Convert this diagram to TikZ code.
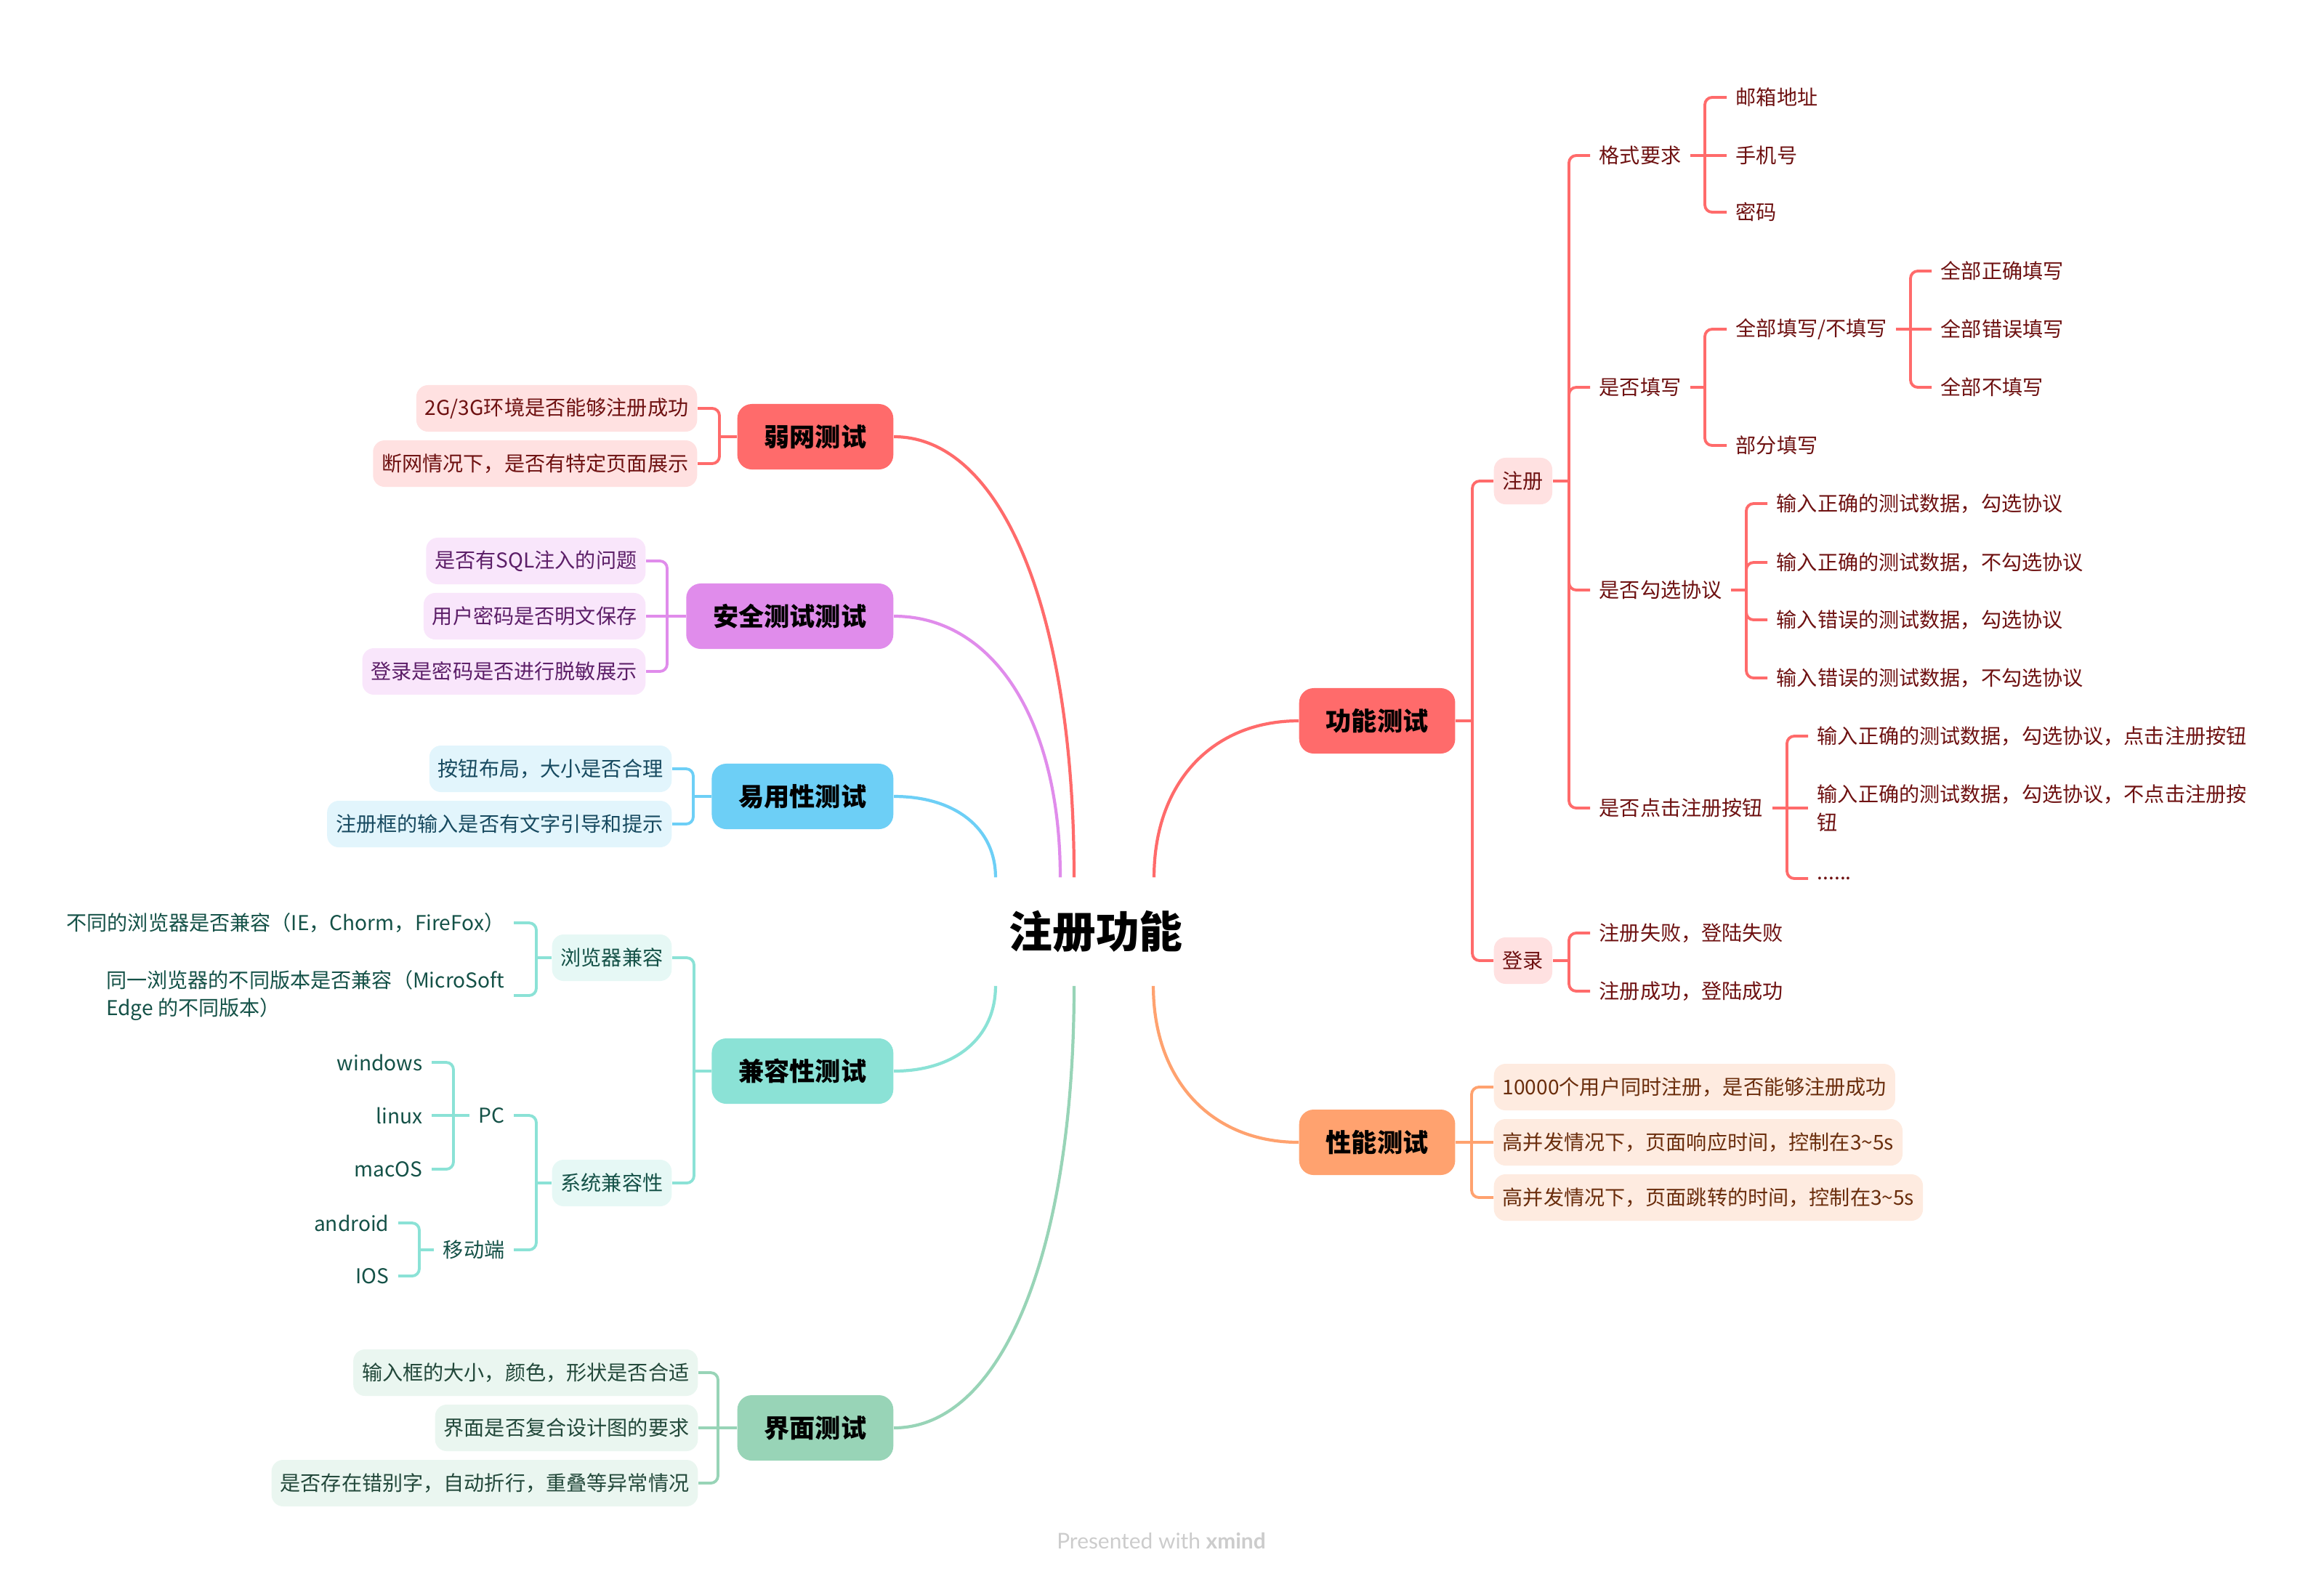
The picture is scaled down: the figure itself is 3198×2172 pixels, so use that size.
\documentclass[tikz,border=0pt]{standalone}
\usepackage{fontspec}
\setmainfont{Noto Sans CJK SC}
\newfontfamily\markfont{Lato}
\usepackage{xcolor}
\usepackage{tikz}

\definecolor{redM}{HTML}{FF6B6B}
\definecolor{redL}{HTML}{FFE1E1}
\definecolor{redT}{HTML}{6E1111}
\definecolor{purM}{HTML}{E08CEB}
\definecolor{purL}{HTML}{F9E6FB}
\definecolor{purT}{HTML}{5C1E68}
\definecolor{bluM}{HTML}{6DCFF6}
\definecolor{bluL}{HTML}{E2F5FC}
\definecolor{bluT}{HTML}{174A60}
\definecolor{teaM}{HTML}{8BE2D6}
\definecolor{teaL}{HTML}{E6F8F5}
\definecolor{teaT}{HTML}{145147}
\definecolor{grnM}{HTML}{98D4B7}
\definecolor{grnL}{HTML}{EAF6F0}
\definecolor{grnT}{HTML}{22483A}
\definecolor{oraM}{HTML}{FFA26F}
\definecolor{oraL}{HTML}{FEEBE0}
\definecolor{oraT}{HTML}{6A2D0C}
\definecolor{markgray}{HTML}{CCCCCC}

\begin{document}
\begin{tikzpicture}[x=0.01cm, y=-0.01cm,
      root/.style={font=\fontsize{17}{20}\selectfont\bfseries,
                   minimum width=3.6cm, minimum height=1.48cm},
      topic/.style={rounded corners=0.2cm, minimum height=0.9cm,
                    inner xsep=0.37cm, font=\fontsize{10}{12}\selectfont\bfseries},
      sub/.style={rounded corners=0.16cm, minimum height=0.64cm, inner xsep=0.12cm,
                  inner ysep=0pt, font=\fontsize{8}{11}\selectfont},
      leaf/.style={inner xsep=0.12cm, align=left, font=\fontsize{8}{11}\selectfont},
      curve/.style={line width=1.2pt},
      link/.style={line width=1.1pt, rounded corners=0.1cm}
    ]
  \useasboundingbox (0,0) rectangle (3198,2172);

  % centre
  \node[root] (root) at (1508,1282) {注册功能};

  % main topics
  \node[topic, fill=redM, anchor=east] (weak) at (1230,601) {弱网测试};
  \node[topic, fill=purM, anchor=east] (sec) at (1230,848) {安全测试测试};
  \node[topic, fill=bluM, anchor=east] (use) at (1230,1096) {易用性测试};
  \node[topic, fill=teaM, anchor=east] (comp) at (1230,1474) {兼容性测试};
  \node[topic, fill=grnM, anchor=east] (ui) at (1230,1965) {界面测试};
  \node[topic, fill=redM, anchor=west] (func) at (1787,992) {功能测试};
  \node[topic, fill=oraM, anchor=west] (perf) at (1787,1572) {性能测试};

  \draw[curve, redM] ([xshift=-0.3cm]root.north) .. controls +(0,-364) and +(149,0) .. (weak.east);
  \draw[curve, purM] ([xshift=-0.49cm]root.north) .. controls +(0,-216) and +(137,0) .. (sec.east);
  \draw[curve, bluM] ([xshift=-1.38cm]root.north) .. controls +(0,-67) and +(85,0) .. (use.east);
  \draw[curve, teaM] ([xshift=-1.38cm]root.south) .. controls +(0,71) and +(85,0) .. (comp.east);
  \draw[curve, grnM] ([xshift=-0.3cm]root.south) .. controls +(0,365) and +(149,0) .. (ui.east);
  \draw[curve, redM] ([xshift=0.8cm]root.north) .. controls +(0,-130) and +(-119,0) .. (func.west);
  \draw[curve, oraM] ([xshift=0.79cm]root.south) .. controls +(0,130) and +(-120,0) .. (perf.west);

  % 弱网测试
  \node[sub, fill=redL, text=redT, anchor=east] (w1) at (960,562) {2G/3G环境是否能够注册成功};
  \node[sub, fill=redL, text=redT, anchor=east] (w2) at (960,638) {断网情况下，是否有特定页面展示};
  \coordinate (jw) at (990,601);
  \draw[link, redM] (weak.west) -- (jw);
  \foreach \n in {w1,w2} \draw[link, redM] (jw) |- (\n.east);

  % 安全测试测试
  \node[sub, fill=purL, text=purT, anchor=east] (s1) at (889,772) {是否有SQL注入的问题};
  \node[sub, fill=purL, text=purT, anchor=east] (s2) at (889,848) {用户密码是否明文保存};
  \node[sub, fill=purL, text=purT, anchor=east] (s3) at (889,924) {登录是密码是否进行脱敏展示};
  \coordinate (js) at (918,848);
  \draw[link, purM] (sec.west) -- (s2.east);
  \foreach \n in {s1,s3} \draw[link, purM] (js) |- (\n.east);

  % 易用性测试
  \node[sub, fill=bluL, text=bluT, anchor=east] (u1) at (925,1058) {按钮布局，大小是否合理};
  \node[sub, fill=bluL, text=bluT, anchor=east] (u2) at (925,1134) {注册框的输入是否有文字引导和提示};
  \coordinate (ju) at (954,1096);
  \draw[link, bluM] (use.west) -- (ju);
  \foreach \n in {u1,u2} \draw[link, bluM] (ju) |- (\n.east);

  % 兼容性测试
  \node[sub, fill=teaL, text=teaT, anchor=east] (bro) at (925,1318) {浏览器兼容};
  \node[sub, fill=teaL, text=teaT, anchor=east] (sys) at (925,1628) {系统兼容性};
  \coordinate (jc) at (955,1474);
  \draw[link, teaM] (comp.west) -- (jc);
  \foreach \n in {bro,sys} \draw[link, teaM] (jc) |- (\n.east);

  \node[leaf, text=teaT, anchor=east] (b1) at (707,1270) {不同的浏览器是否兼容（IE，Chorm，FireFox）};
  \node[leaf, text=teaT, anchor=east] (b2) at (707,1370) {同一浏览器的不同版本是否兼容（MicroSoft\\Edge 的不同版本）};
  \coordinate (jb) at (738,1318);
  \draw[link, teaM] (bro.west) -- (jb);
  \foreach \n in {b1,b2} \draw[link, teaM] (jb) |- (\n.east);

  \node[leaf, text=teaT, anchor=east] (pc) at (707,1535) {PC};
  \node[leaf, text=teaT, anchor=east] (mob) at (707,1720) {移动端};
  \coordinate (jsy) at (738,1628);
  \draw[link, teaM] (sys.west) -- (jsy);
  \foreach \n in {pc,mob} \draw[link, teaM] (jsy) |- (\n.east);

  \node[leaf, text=teaT, anchor=east] (win) at (594,1462) {windows};
  \node[leaf, text=teaT, anchor=east] (lin) at (594,1535) {linux};
  \node[leaf, text=teaT, anchor=east] (mac) at (594,1609) {macOS};
  \coordinate (jpc) at (624,1535);
  \draw[link, teaM] (pc.west) -- (lin.east);
  \foreach \n in {win,mac} \draw[link, teaM] (jpc) |- (\n.east);

  \node[leaf, text=teaT, anchor=east] (and) at (548,1683) {android};
  \node[leaf, text=teaT, anchor=east] (ios) at (548,1756) {IOS};
  \coordinate (jmo) at (577,1720);
  \draw[link, teaM] (mob.west) -- (jmo);
  \foreach \n in {and,ios} \draw[link, teaM] (jmo) |- (\n.east);

  % 界面测试
  \node[sub, fill=grnL, text=grnT, anchor=east] (i1) at (961,1889) {输入框的大小，颜色，形状是否合适};
  \node[sub, fill=grnL, text=grnT, anchor=east] (i2) at (961,1965) {界面是否复合设计图的要求};
  \node[sub, fill=grnL, text=grnT, anchor=east] (i3) at (961,2041) {是否存在错别字，自动折行，重叠等异常情况};
  \coordinate (ji) at (988,1965);
  \draw[link, grnM] (ui.west) -- (i2.east);
  \foreach \n in {i1,i3} \draw[link, grnM] (ji) |- (\n.east);

  % 功能测试
  \node[sub, fill=redL, text=redT, anchor=west] (reg) at (2055,662) {注册};
  \node[sub, fill=redL, text=redT, anchor=west] (login) at (2055,1322) {登录};
  \coordinate (jf) at (2026,992);
  \draw[link, redM] (func.east) -- (jf);
  \foreach \n in {reg,login} \draw[link, redM] (jf) |- (\n.west);

  \node[leaf, text=redT, anchor=west] (fmt) at (2188,214) {格式要求};
  \node[leaf, text=redT, anchor=west] (wr) at (2188,533) {是否填写};
  \node[leaf, text=redT, anchor=west] (agree) at (2188,812) {是否勾选协议};
  \node[leaf, text=redT, anchor=west] (click) at (2188,1112) {是否点击注册按钮};
  \coordinate (jr) at (2159,662);
  \draw[link, redM] (reg.east) -- (jr);
  \foreach \n in {fmt,wr,agree,click} \draw[link, redM] (jr) |- (\n.west);

  \node[leaf, text=redT, anchor=west] (mail) at (2376,134) {邮箱地址};
  \node[leaf, text=redT, anchor=west] (phone) at (2376,214) {手机号};
  \node[leaf, text=redT, anchor=west] (pwd) at (2376,292) {密码};
  \coordinate (jfm) at (2346,214);
  \draw[link, redM] (fmt.east) -- (phone.west);
  \foreach \n in {mail,pwd} \draw[link, redM] (jfm) |- (\n.west);

  \node[leaf, text=redT, anchor=west] (all) at (2376,453) {全部填写/不填写};
  \node[leaf, text=redT, anchor=west] (part) at (2376,613) {部分填写};
  \coordinate (jwr) at (2346,533);
  \draw[link, redM] (wr.east) -- (jwr);
  \foreach \n in {all,part} \draw[link, redM] (jwr) |- (\n.west);

  \node[leaf, text=redT, anchor=west] (a1) at (2658,373) {全部正确填写};
  \node[leaf, text=redT, anchor=west] (a2) at (2658,453) {全部错误填写};
  \node[leaf, text=redT, anchor=west] (a3) at (2658,533) {全部不填写};
  \coordinate (jall) at (2629,453);
  \draw[link, redM] (all.east) -- (a2.west);
  \foreach \n in {a1,a3} \draw[link, redM] (jall) |- (\n.west);

  \node[leaf, text=redT, anchor=west] (g1) at (2432,693) {输入正确的测试数据，勾选协议};
  \node[leaf, text=redT, anchor=west] (g2) at (2432,774) {输入正确的测试数据，不勾选协议};
  \node[leaf, text=redT, anchor=west] (g3) at (2432,853) {输入错误的测试数据，勾选协议};
  \node[leaf, text=redT, anchor=west] (g4) at (2432,933) {输入错误的测试数据，不勾选协议};
  \coordinate (jag) at (2403,812);
  \draw[link, redM] (agree.east) -- (jag);
  \foreach \n in {g1,g2,g3,g4} \draw[link, redM] (jag) |- (\n.west);

  \node[leaf, text=redT, anchor=west] (c1) at (2488,1013) {输入正确的测试数据，勾选协议，点击注册按钮};
  \node[leaf, text=redT, anchor=west] (c2) at (2488,1112) {输入正确的测试数据，勾选协议，不点击注册按\\钮};
  \node[leaf, text=redT, anchor=west] (c3) at (2488,1209) {......};
  \coordinate (jcl) at (2459,1112);
  \draw[link, redM] (click.east) -- (c2.west);
  \foreach \n in {c1,c3} \draw[link, redM] (jcl) |- (\n.west);

  \node[leaf, text=redT, anchor=west] (l1) at (2188,1284) {注册失败，登陆失败};
  \node[leaf, text=redT, anchor=west] (l2) at (2188,1364) {注册成功，登陆成功};
  \coordinate (jl) at (2159,1322);
  \draw[link, redM] (login.east) -- (jl);
  \foreach \n in {l1,l2} \draw[link, redM] (jl) |- (\n.west);

  % 性能测试
  \node[sub, fill=oraL, text=oraT, anchor=west] (p1) at (2055,1496) {10000个用户同时注册，是否能够注册成功};
  \node[sub, fill=oraL, text=oraT, anchor=west] (p2) at (2055,1572) {高并发情况下，页面响应时间，控制在3\textasciitilde 5s};
  \node[sub, fill=oraL, text=oraT, anchor=west] (p3) at (2055,1648) {高并发情况下，页面跳转的时间，控制在3\textasciitilde 5s};
  \coordinate (jp) at (2025,1572);
  \draw[link, oraM] (perf.east) -- (p2.west);
  \foreach \n in {p1,p3} \draw[link, oraM] (jp) |- (\n.west);

  \node[font=\markfont\fontsize{8.5}{10}\selectfont, text=markgray] (mark) at (1598,2120)
    {Presented with \textbf{xmind}};
\end{tikzpicture}
\end{document}
